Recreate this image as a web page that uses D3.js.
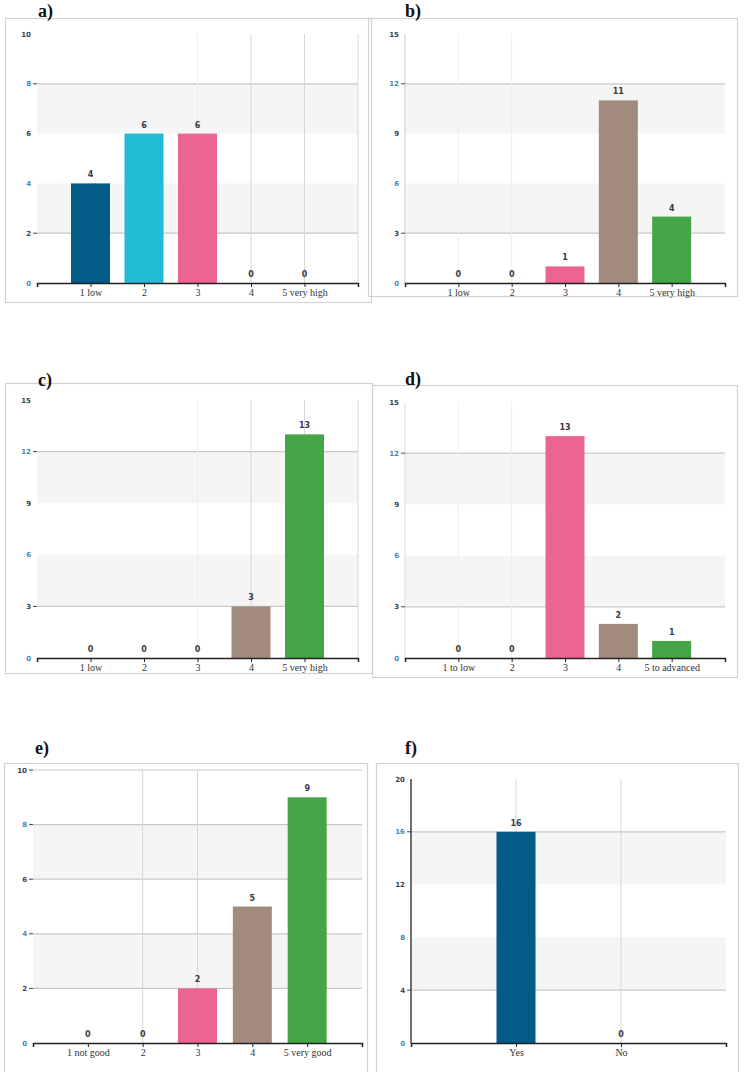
<!DOCTYPE html>
<html>
<head>
<meta charset="utf-8">
<script src="https://cdn.jsdelivr.net/npm/d3@7"></script>
<style>
  body { margin: 0; background: #fff; }
  svg { display: block; }
</style>
</head>
<body>
<svg id="chart" width="744" height="1072"></svg>
<script>
// panel letters
const panelLabels = ['a)', 'b)', 'c)', 'd)', 'e)', 'f)'];

// categories of each panel
const categoriesA = ['1 low', '2', '3', '4', '5 very high'];
const categoriesB = ['1 low', '2', '3', '4', '5 very high'];
const categoriesC = ['1 low', '2', '3', '4', '5 very high'];
const categoriesD = ['1 to low', '2', '3', '4', '5 to advanced'];
const categoriesE = ['1 not good', '2', '3', '4', '5 very good'];
const categoriesF = ['Yes', 'No'];

// counts per category
const valuesA = [4, 6, 6, 0, 0];
const valuesB = [0, 0, 1, 11, 4];
const valuesC = [0, 0, 0, 3, 13];
const valuesD = [0, 0, 13, 2, 1];
const valuesE = [0, 0, 2, 5, 9];
const valuesF = [16, 0];

// y tick labels
const yTicksA = [0, 2, 4, 6, 8, 10];
const yTicksB = [0, 3, 6, 9, 12, 15];
const yTicksC = [0, 3, 6, 9, 12, 15];
const yTicksD = [0, 3, 6, 9, 12, 15];
const yTicksE = [0, 2, 4, 6, 8, 10];
const yTicksF = [0, 4, 8, 12, 16, 20];

// bar colours by category position
const barColors = ['#035b88', '#21bbd3', '#ec6590', '#a18b7f', '#45a547'];

// layout and look of each panel
const panels = [
    {label: panelLabels[0], cats: categoriesA, vals: valuesA, ticks: yTicksA,
     box: [5, 18, 371, 302], lab: [38, 17], plot: [37, 34, 358, 283],
     vlines: [[2, '#eeeeee'], [3, '#d6d6d6'], [4, '#d6d6d6']], rightLine: true, allGrid: false, yAxisColor: null},
    {label: panelLabels[1], cats: categoriesB, vals: valuesB, ticks: yTicksB,
     box: [368, 18, 737, 296], lab: [405, 17], plot: [405, 34, 725, 283],
     vlines: [[0, '#eeeeee'], [1, '#eeeeee']], rightLine: false, allGrid: false, yAxisColor: '#cccccc'},
    {label: panelLabels[2], cats: categoriesC, vals: valuesC, ticks: yTicksC,
     box: [5, 383, 372, 673], lab: [38, 386], plot: [37, 400, 358, 658],
     vlines: [[2, '#eeeeee'], [3, '#d6d6d6'], [4, '#d6d6d6']], rightLine: true, allGrid: false, yAxisColor: null},
    {label: panelLabels[3], cats: categoriesD, vals: valuesD, ticks: yTicksD,
     box: [372, 385, 737, 677], lab: [405, 385], plot: [405, 402, 725, 658],
     vlines: [[0, '#eeeeee'], [1, '#eeeeee']], rightLine: false, allGrid: false, yAxisColor: '#dddddd'},
    {label: panelLabels[4], cats: categoriesE, vals: valuesE, ticks: yTicksE,
     box: [4, 763, 367, 1080], lab: [35, 754], plot: [33, 770, 362, 1043],
     vlines: [[1, '#d6d6d6'], [2, '#d6d6d6']], rightLine: false, allGrid: true, yAxisColor: null},
    {label: panelLabels[5], cats: categoriesF, vals: valuesF, ticks: yTicksF,
     box: [376, 763, 738, 1080], lab: [405, 754], plot: [411, 779, 726, 1043],
     vlines: [[0, '#d6d6d6'], [1, '#d6d6d6']], rightLine: false, allGrid: false, yAxisColor: '#333333'}
];

const svg = d3.select('#chart');
const barWidth = 39;

panels.forEach(function(p) {
    const [left, top, right, bottom] = p.plot;
    const g = svg.append('g');

    // frame round the panel
    g.append('rect')
        .attr('x', p.box[0] + 0.5).attr('y', p.box[1] + 0.5)
        .attr('width', p.box[2] - p.box[0]).attr('height', p.box[3] - p.box[1])
        .attr('fill', 'none').attr('stroke', '#d2d2d2').attr('stroke-width', 1.2);

    // scales
    const x = d3.scalePoint().domain(p.cats).range([left, right]).padding(1);
    const y = d3.scaleLinear().domain([0, d3.max(p.ticks)]).range([bottom, top]);

    // shaded bands
    [[1, 2], [3, 4]].forEach(function(b) {
        g.append('rect')
            .attr('x', left).attr('width', right - left)
            .attr('y', y(p.ticks[b[1]])).attr('height', y(p.ticks[b[0]]) - y(p.ticks[b[1]]))
            .attr('fill', '#f5f5f5');
    });

    // horizontal grid lines
    const gridTicks = p.allGrid ? p.ticks.slice(1) : [p.ticks[1], p.ticks[4]];
    g.selectAll('.hgrid')
        .data(gridTicks)
        .enter().append('line')
        .attr('x1', left).attr('x2', right)
        .attr('y1', d => y(d)).attr('y2', d => y(d))
        .attr('stroke', '#c9c9c9').attr('stroke-width', 1.2);

    // vertical grid lines
    p.vlines.forEach(function(v) {
        g.append('line')
            .attr('x1', x(p.cats[v[0]])).attr('x2', x(p.cats[v[0]]))
            .attr('y1', top).attr('y2', bottom)
            .attr('stroke', v[1]).attr('stroke-width', 1);
    });
    if (p.rightLine) {
        g.append('line')
            .attr('x1', right).attr('x2', right).attr('y1', top).attr('y2', bottom)
            .attr('stroke', '#d6d6d6');
    }

    // y axis line
    if (p.yAxisColor) {
        g.append('line')
            .attr('x1', left).attr('x2', left).attr('y1', top).attr('y2', bottom)
            .attr('stroke', p.yAxisColor).attr('stroke-width', p.yAxisColor === '#333333' ? 1.4 : 1);
    }

    // y tick labels and small tick marks
    g.selectAll('.ylab')
        .data(p.ticks)
        .enter().append('text')
        .attr('x', left - 6)
        .attr('y', d => y(d) + 2.5)
        .attr('text-anchor', 'end')
        .attr('font-family', 'DejaVu Sans, sans-serif')
        .attr('font-size', 7)
        .attr('font-weight', 'bold')
        .attr('fill', (d, i) => i % 2 === 0 ? '#4a86b8' : '#3a4050')
        .text(d => d);
    g.selectAll('.ytick')
        .data(gridTicks)
        .enter().append('line')
        .attr('x1', left - 4).attr('x2', left)
        .attr('y1', d => y(d)).attr('y2', d => y(d))
        .attr('stroke', '#444');

    // bars
    g.selectAll('.bar')
        .data(p.vals)
        .enter().append('rect')
        .attr('x', (d, i) => x(p.cats[i]) - barWidth / 2)
        .attr('width', barWidth)
        .attr('y', d => y(d))
        .attr('height', d => bottom - y(d))
        .attr('fill', (d, i) => barColors[i]);

    // value labels
    g.selectAll('.val')
        .data(p.vals)
        .enter().append('text')
        .attr('x', (d, i) => x(p.cats[i]))
        .attr('y', d => y(d) - 6)
        .attr('text-anchor', 'middle')
        .attr('font-family', 'DejaVu Sans, sans-serif')
        .attr('font-size', 8)
        .attr('font-weight', 'bold')
        .attr('fill', '#3a3a48')
        .text(d => d);

    // x axis
    const xAxis = g.append('g')
        .attr('transform', 'translate(0,' + bottom + ')')
        .call(d3.axisBottom(x).tickSize(4).tickSizeOuter(4));
    xAxis.select('.domain').attr('stroke', '#222').attr('stroke-width', 1.5);
    xAxis.selectAll('.tick line').attr('stroke', '#222');
    xAxis.selectAll('.tick text')
        .attr('font-family', 'Liberation Serif, serif')
        .attr('font-size', 10)
        .attr('fill', '#333')
        .attr('dy', '0.55em');

    // panel letter
    g.append('text')
        .attr('x', p.lab[0]).attr('y', p.lab[1])
        .attr('font-family', 'Liberation Serif, serif')
        .attr('font-weight', 'bold')
        .attr('font-size', 18)
        .attr('fill', '#111')
        .text(p.label);
});
</script>
</body>
</html>
